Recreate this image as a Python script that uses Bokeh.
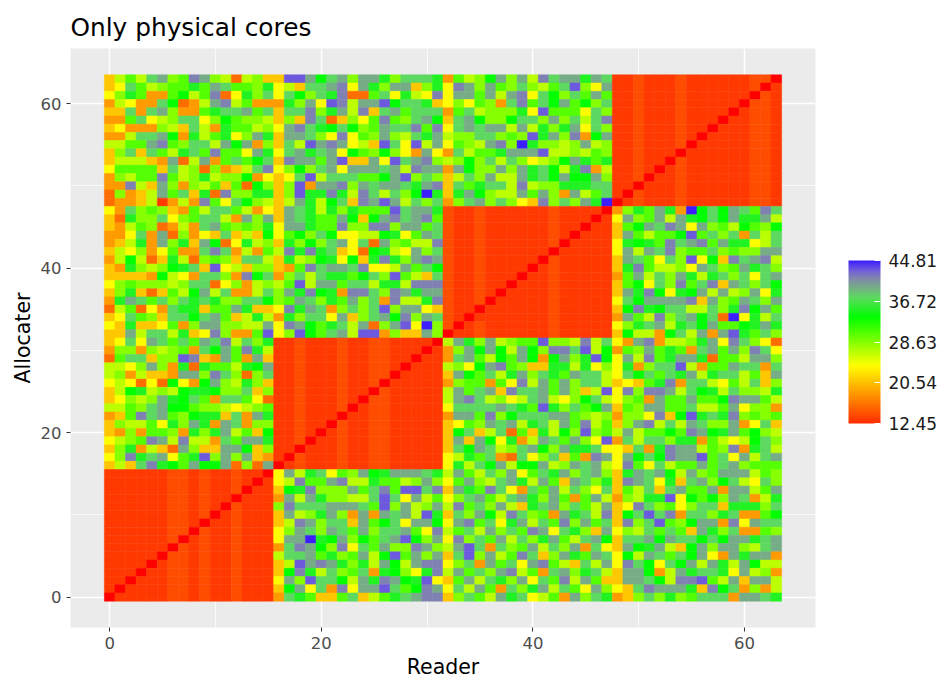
from bokeh.plotting import figure
from bokeh.models import ColumnDataSource, LinearColorMapper, ColorBar, FixedTicker, Range1d, PrintfTickFormatter
from bokeh.transform import transform
from bokeh.embed import file_html
from bokeh.resources import INLINE

TITLE = "Only physical cores"
X_LABEL = "Reader"
Y_LABEL = "Allocater"
AXIS_TICKS = [0, 20, 40, 60]
MINOR_TICKS = [10, 30, 50]
LEGEND_TICKS = [12.45, 20.54, 28.63, 36.72, 44.81]

# estimated cell level -> value, read from the colours of the picture
LEVELS = {"r": 10.0, "o": 13.2, "p": 14.3, "n": 16.0, "a": 18.5, "u": 21.0, "y": 24.0, "l": 26.5,
          "h": 28.5, "g": 30.5, "G": 33.6, "m": 35.0, "s": 37.5, "t": 39.5, "b": 41.5, "v": 43.0, "B": 44.81}

# colour stops of the fill scale (value, r, g, b)
STOPS = [(10.0, 255, 0, 0), (24.0, 255, 255, 0), (33.6, 0, 255, 0), (37.5, 92, 218, 96),
         (39.5, 118, 172, 134), (41.5, 128, 130, 178), (43.0, 110, 90, 220), (44.81, 60, 30, 255)]

# Columns 0-15, rows 63 down to 0
C0 = ["ulglsthgbthlnlhu","uysglhggmgtsgghm","yhmgaagGlgbnymhs","alyaasGnaltblgaa","uusasthaagmsstgs","aagsylhssyhGghhl",
"uyaaahluslamgglh","aalsstGamlgmyhtm","llggtbghssltGtah","uhsusglmsgbggytm","ullluatnltagsgGs","ygggguslhnhaulsb",
"ahlggbglhmlhhGay","aabluthahlgugnGh","nhaultgsumnbhhmm","naauloalabgysGhl",
"yashghuaglssglay","unmhhsyhgsslatht","ualghnalastghghm","aaysatnhayusuluG","aulmathmutGnymlh","ulyhaygaasbsalag",
"alGlnumlnhghussl","uamhlhGmsuvyluhh","uuuuaGlyasshabGs","yhghhhlhssnyhalh","uhmunuglGtlsaals","amtsgshsmsmhhssG",
"nlgnyasmmuggtmuu","uysghussGstgulml","yumuuygahtthhllt","uutlsslmuybhaagv",
"uysytsgsgtsblshm","ahhahlhgasGtgbml","ngssuhhvbuatgatu","llyhthamnmgglmGt","lhaluuatthbshnhs","ylynynGyaGthlmhu",
"ulGmlhlGmmGhhsuh","uyhlhtmGsgassgyn","llghstGGghhlylhg","augbstghGmmusatm","uhllgymhtmatsahh","uahagghamhmtlguG",
"ylhgbtlbllasgttm","uhmalunthuuttGuh","yhbmstygmvhthtua","ulusbmGgtGGtnhnt",
"oooo oopp opoo poor","oooo oopp opoo poro","oooo oopp opoo proo","oooo oopp opoo rooo",
"oooo oopp opor pooo","oooo oopp opro pooo","oooo oopp oroo pooo","oooo oopp rpoo pooo",
"oooo oopr opoo pooo","oooo oorp opoo pooo","oooo orpp opoo pooo","oooo ropp opoo pooo",
"ooor oopp opoo pooo","ooro oopp opoo pooo","oroo oopp opoo pooo","rooo oopp opoo pooo"]

# Columns 16-31
C1 = ["uvvtGsthttmhsssm","ylusstbytmhttuhm","ysGhsmbnngsymlyb","amhtyvblttvGssmu","ussbhmtlbustgsss","uhubsnuhygbghstG",
"ytbsmGsGhgtssbgb","uttshybyghthlsmt","uslvtbtyluvsyvlt","ystmstyGghGhyaty","ubttgtvuutyvstbh","yhGhstytttstlbtt",
"uysvlsssggGtvhsh","uhvattbhtsttsmtb","uhvmmbmlbslshGBm","ultmlGsubtvtlshs",
"utsmlmhmgggvsttm","utsmggtGuGtbstbg","yttmggbhhbbhttgs","ygGhsGyyllGmygts","umhGhstysnthgllb","lbmbmsuynGmlyths",
"umlhGmyGumbmhtbt","uagbsttsbyyltgsG","ahslsmmgGshvglus","lgvlttgsslmmlbbb","htmbGmabbshbtmtt","hgtshmgthsabllmb",
"ybmtsahshsvhttyu","amhssytuhstGbhts","ybtGgmsltnhtvyBh","yhvGgstlvvahuuth",
"oopo oopo oppo ooor","oopo oopo oppo ooro","oopo oopo oppo oroo","oopo oopo oppo rooo",
"oopo oopo oppr oooo","oopo oopo opro oooo","oopo oopo orpo oooo","oopo oopo rppo oooo",
"oopo oopr oppo oooo","oopo ooro oppo oooo","oopo orpo oppo oooo","oopo ropo oppo oooo",
"oopr oopo oppo oooo","ooro oopo oppo oooo","orpo oopo oppo oooo","ropo oopo oppo oooo",
"ytlmsyghtGmtttsm","ylbggtbllmgglhth","uGmbhhhtgsbgvvsb","atltmhhllsvsytlg","hbssstttsgvhtlht","utlhmthatatstlvm",
"ulbthssutgGsyttG","yhtshtsgthsstgyb","yttBmGthGgstvGht","asbtGhbysgthhbth","lsstgmhgtlGvgtht","ulvtbtmhmltGltbb",
"uGbmlshgsamGhymb","ythvssGltmbtGmvy","uGtysabyttvsgGbt","asmguugsulgmstbb"]

# Columns 32-47
C2 = ["aglhGthtlbsttmts","ybthtghshlgsvhyt","yttgtltbysGhsgtg","yhyghasbgsGtgGhs","agslhhhmyvgggysh","ustGhhGsshthslsb",
"yststtltlmhmtysh","lhhsshghvmthbaGt","yghltbhBmhhlhtlh","aslggmtttvllhlgh","lhGhslshylhGtmgm","atGhhthtmsGlmbal",
"ulshtlltmsGtGGth","usgmsslblhhmmmss","umtGhlltgthatlgs","ahsthshyubhshtmB",
"poop oooo oopo ooor","poop oooo oopo ooro","poop oooo oopo oroo","poop oooo oopo rooo",
"poop oooo oopr oooo","poop oooo ooro oooo","poop oooo orpo oooo","poop oooo ropo oooo",
"poop ooor oopo oooo","poop ooro oopo oooo","poop oroo oopo oooo","poop rooo oopo oooo",
"poor oooo oopo oooo","poro oooo oopo oooo","prop oooo oopo oooo","roop oooo oopo oooo",
"ltmhtlhggvhhlbls","ahtGtGltGhbbsvlG","astglGgtGaGthmvG","lhyGtbghuummlmyh","utGgslmthsmgtssl","ahggagybltgthssl",
"ltgstubsstgthulv","ltbslhylstlyhGsl","ysssstsmgvmhsgGt","attgbhGsssttghlh","uyghtstlmsltgblg","uGsulsngumlGhvhg",
"ututGymaltsgthyv","usGtslhstGhtmmsy","ylmgsansyhsugabt","ymlsGtlGGtlhtstl",
"ltglshtygsmthsth","ygthlstmltgutshm","utmgbsyasgtlshys","yhstglstmhtgagtl","lbgshtlumsthsglt","ushtGlbshgatmslb",
"ytbgsymtlsgbhtgs","lgslthsgbtysmhut","ybhsgtlshmtglstG","ltvsashgtlshtasy","usvhtlgbsuhtmgts","yhsatgsytbgluslt",
"ltgshtblgasthmsl","ugtlsmhtysgbltgu","ysltgashmtlsgyth","uhsgltmsylgathsm"]

# Columns 48-63
C3 = ["oopo oopo oooo oppr","oopo oopo oooo opro","oopo oopo oooo orpo","oopo oopo oooo rppo",
"oopo oopo ooor oppo","oopo oopo ooro oppo","oopo oopo oroo oppo","oopo oopo rooo oppo",
"oopo oopr oooo oppo","oopo ooro oooo oppo","oopo orpo oooo oppo","oopo ropo oooo oppo",
"oopr oopo oooo oppo","ooro oopo oooo oppo","orpo oopo oooo oppo","ropo oopo oooo oppo",
"ahmgtmaBGsGtsgbs","ythgtltmGsGtmmtl","ugGtsbtythglGghG","utglggGvgshsasls","ymGmgbstbgtmmyls","ytltsbhggshghhtt",
"utsgyshvyGubstbl","umbgllhytshgtmsh","agtlshtmlmshsyst","ugGyshbgsbutshsG","utmbGymGtltlhtym","ysGttttbuthgtsht",
"uGbmGssllshmbGtg","atglbhstGsnBymls","yhmstlmsGtggGmtm","uGllaGsltatvmgsh",
"yatballhmtybshyn","aghtgmgastgthbsy","ytlbgmttmnggltth","ymahssvlaggtssas","ysGsgsmtlmsslgut","uyugmbasslyglsuh",
"ybhbbtlsGmlshhlm","yhgatggtggGbttgl","ughttggsllgtyhha","ahhybuGvmsmbhghg","uhtblsltshhtaysu","ltlggGgbtGmtgGhl",
"aslsshmmaglylGsh","yusambttlghbamsl","ytGsGbttvgsytlst","ybgyslggtgsthggg",
"umtstGlthgtttlgh","ubtsymusthGslysh","uglsustggtattlgt","ahlmmvyGgGhtsalm","uybshgyhssummmhs","uGsvsbasshmsaagG",
"ubhsvghGttabytss","yhlsgsgutmhsaagh","usstGtssGsGttmst","utGmtluGthtthlst","yGltsgsGtyatmtta","ybsGysGtltmltGll",
"uttGaltmssmytlha","uttsGlbbvgltuttl","yusbtttmubGsahal","auhshmhgsssattsm"]


def colour(v):
    for (a, r0, g0, b0), (c, r1, g1, b1) in zip(STOPS, STOPS[1:]):
        if v <= c:
            f = (v - a) / (c - a)
            return "#%02x%02x%02x" % (round(r0 + f * (r1 - r0)), round(g0 + f * (g1 - g0)), round(b0 + f * (b1 - b0)))
    return "#%02x%02x%02x" % STOPS[-1][1:]


def ramp(lo, hi, n=256):
    return [colour(lo + (hi - lo) * i / (n - 1)) for i in range(n)]


xs, ys, vals = [], [], []
for i in range(64):
    row = 63 - i
    line = (C0[i] + C1[i] + C2[i] + C3[i]).replace(" ", "")
    assert len(line) == 64, (row, len(line))
    for col, ch in enumerate(line):
        xs.append(col)
        ys.append(row)
        vals.append(LEVELS[ch])

src = ColumnDataSource(dict(x=xs, y=ys, v=vals))
mapper = LinearColorMapper(palette=ramp(10.0, 44.81), low=10.0, high=44.81)

p = figure(frame_width=745, frame_height=579, output_backend="svg", toolbar_location=None,
           x_range=Range1d(-3.7, 66.7), y_range=Range1d(-3.7, 66.7),
           min_border_left=70, min_border_top=48, min_border_bottom=50, min_border_right=0,
           background_fill_color="#EBEBEB", border_fill_color="white", outline_line_color=None,
           title=TITLE, x_axis_label=X_LABEL, y_axis_label=Y_LABEL)

p.rect("x", "y", width=1, height=1, source=src, fill_color=transform("v", mapper),
       line_color=transform("v", mapper), line_width=0.5)

p.title.text_font = "DejaVu Sans"
p.title.text_font_size = "24.8px"
p.title.text_font_style = "normal"
p.title.text_color = "black"
p.title.offset = 0
p.title.standoff = 10
p.title.vertical_align = "top"

for ax in (p.xaxis[0], p.yaxis[0]):
    ax.ticker = FixedTicker(ticks=AXIS_TICKS, minor_ticks=MINOR_TICKS)
    ax.axis_line_color = None
    ax.major_tick_line_color = "#333333"
    ax.major_tick_in = 0
    ax.major_tick_out = 4
    ax.minor_tick_line_color = None
    ax.major_label_text_font = "DejaVu Sans"
    ax.major_label_text_font_size = "16.5px"
    ax.major_label_text_color = "#4D4D4D"
    ax.axis_label_text_font = "DejaVu Sans"
    ax.axis_label_text_font_size = "20.5px"
    ax.axis_label_text_font_style = "normal"
    ax.axis_label_text_color = "black"
    ax.major_label_standoff = 5
    ax.axis_label_standoff = 3

for g in (p.xgrid[0], p.ygrid[0]):
    g.ticker = FixedTicker(ticks=AXIS_TICKS, minor_ticks=MINOR_TICKS)
    g.grid_line_color = "white"
    g.grid_line_width = 1.5
    g.minor_grid_line_color = "white"
    g.minor_grid_line_width = 0.75
    g.level = "underlay"

bar_mapper = LinearColorMapper(palette=ramp(12.45, 44.81), low=12.45, high=44.81)
bar = ColorBar(color_mapper=bar_mapper, width=32, height=163, location=(33, 204), padding=0,
               ticker=FixedTicker(ticks=LEGEND_TICKS), formatter=PrintfTickFormatter(format="%.2f"),
               major_tick_line_color="white", major_tick_in=6, major_tick_out=0, bar_line_color=None,
               major_label_text_font="DejaVu Sans", major_label_text_font_size="17px",
               major_label_text_color="#1a1a1a", label_standoff=8, background_fill_color=None,
               border_line_color=None)
p.add_layout(bar, "right")

open("out.html", "w").write(file_html(p, INLINE))
